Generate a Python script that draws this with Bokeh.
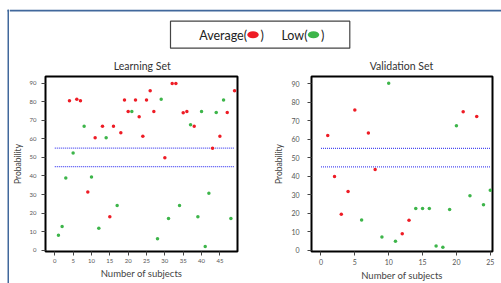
from bokeh.plotting import figure
from bokeh.layouts import row, column
from bokeh.models import Range1d, FixedTicker
from bokeh.core.properties import value
from bokeh.embed import file_html
from bokeh.resources import INLINE

# ---------------- data ----------------
learn_avg_x = [4, 6, 7, 9, 11, 13, 15, 16, 18, 19, 20, 22, 23, 24, 25, 26, 27, 30, 32, 33, 35, 36, 38, 43, 45, 47, 49]
learn_avg_y = [80.5, 81.2, 80.5, 31.4, 60.5, 66.8, 18.1, 66.8, 63.2, 80.8, 74.7, 80.8, 71.9, 61.4, 80.8, 85.8, 74.7,
               49.8, 89.8, 89.8, 74.0, 74.7, 66.8, 54.9, 61.4, 74.2, 85.8]
learn_low_x = [1, 2, 3, 5, 8, 10, 12, 14, 17, 21, 28, 29, 31, 34, 37, 39, 40, 41, 42, 44, 46, 48]
learn_low_y = [8.1, 12.9, 38.9, 52.4, 66.8, 39.5, 11.9, 60.5, 24.2, 74.7, 6.3, 81.2, 17.2, 24.2, 67.5, 18.1, 74.7,
               2.1, 30.7, 74.2, 80.8, 17.2]

valid_avg_x = [1, 2, 3, 4, 5, 7, 8, 12, 13, 21, 23]
valid_avg_y = [62.0, 39.9, 19.5, 31.7, 75.8, 63.4, 43.6, 8.9, 16.2, 74.8, 72.3]
valid_low_x = [6, 9, 10, 11, 14, 15, 16, 17, 18, 19, 20, 22, 24, 25]
valid_low_y = [16.3, 7.1, 90.3, 4.8, 22.5, 22.5, 22.5, 2.3, 1.6, 22.0, 67.3, 29.4, 24.6, 32.4]

thresholds = [45, 55]
y_ticks = [0, 10, 20, 30, 40, 50, 60, 70, 80, 90]
learn_x_ticks = [0, 5, 10, 15, 20, 25, 30, 35, 40, 45]
valid_x_ticks = [0, 5, 10, 15, 20, 25]
titles = ["Learning Set", "Validation Set"]
x_label = "Number of subjects"
y_label = "Probability"
legend_labels = ["Average(", ")", "Low(", ")"]

RED = "#ee1c25"
GREEN = "#3db54a"
BLUE = "#41689c"
FONT = "Lato"
TOP_H = 73
PANEL_H = 283 - TOP_H


def panel(ax_x, ay, lx, ly, n, xr, yr, xticks, width, mb_left, mb_right, tick_fs, lab_standoff):
    p = figure(width=width, height=PANEL_H, x_range=Range1d(*xr), y_range=Range1d(*yr),
               output_backend="svg", toolbar_location=None,
               min_border_left=mb_left, min_border_right=mb_right,
               min_border_top=3, min_border_bottom=29)
    p.grid.visible = False
    p.outline_line_color = "black"
    p.outline_line_width = 2
    p.background_fill_color = "white"
    p.border_fill_color = "white"
    for ax in (p.xaxis[0], p.yaxis[0]):
        ax.axis_line_color = None
        ax.major_tick_in = 0
        ax.major_tick_out = 4
        ax.major_tick_line_color = "#444444"
        ax.minor_tick_line_color = None
        ax.major_label_text_font = FONT
        ax.major_label_text_font_size = tick_fs
        ax.major_label_text_color = "#555555"
    p.xaxis[0].ticker = FixedTicker(ticks=xticks)
    p.yaxis[0].ticker = FixedTicker(ticks=y_ticks)
    p.xaxis[0].major_label_standoff = 3
    p.xaxis[0].axis_label = x_label
    p.xaxis[0].axis_label_text_font = FONT
    p.xaxis[0].axis_label_text_font_size = "9.5px"
    p.xaxis[0].axis_label_text_font_style = "normal"
    p.xaxis[0].axis_label_text_color = "#444444"
    p.xaxis[0].axis_label_standoff = 2
    p.yaxis[0].major_label_standoff = lab_standoff
    p.yaxis[0].axis_label = y_label
    p.yaxis[0].axis_label_text_font = FONT
    p.yaxis[0].axis_label_text_font_size = "8.5px"
    p.yaxis[0].axis_label_text_font_style = "normal"
    p.yaxis[0].axis_label_text_color = "#444444"
    p.yaxis[0].axis_label_standoff = 4

    for t in thresholds:
        p.segment(x0=[0], y0=[t], x1=[n], y1=[t], line_color="#4a4af2", line_width=1.2, line_dash="1 1")
    p.scatter(ax_x, ay, size=3.5, fill_color=RED, line_color=None, marker="circle")
    p.scatter(lx, ly, size=3.5, fill_color=GREEN, line_color=None, marker="circle")
    return p


left = panel(learn_avg_x, learn_avg_y, learn_low_x, learn_low_y, 49,
             (-2.53, 49.8), (-0.6, 93.5), learn_x_ticks, 249, 36, 21, "6px", 5)
right = panel(valid_avg_x, valid_avg_y, valid_low_x, valid_low_y, 25,
              (-1.40, 25.33), (-0.7, 93.9), valid_x_ticks, 243, 53, 9, "7px", 8)

# header: border line, legend box, panel titles
head = figure(width=492, height=TOP_H, x_range=Range1d(0, 492), y_range=Range1d(TOP_H, 0),
              output_backend="svg", toolbar_location=None, min_border=0)
head.axis.visible = False
head.grid.visible = False
head.outline_line_color = None
head.quad(left=[0], right=[492], top=[9.3], bottom=[10.9], fill_color=BLUE, line_color=None)
head.quad(left=[161], right=[340.3], top=[20.7], bottom=[47.7], fill_color="white",
          line_color="#444444", line_width=1.2)
head.text(x=[237.5], y=[34.5], text=[legend_labels[0]], text_align="right", text_baseline="middle",
          text_font=value(FONT), text_font_size="12.5px", text_color="#222222")
head.ellipse(x=[243.5], y=[34.3], width=11.5, height=7, width_units="screen", height_units="screen",
             fill_color=RED, line_color=None)
head.text(x=[251], y=[34.5], text=[legend_labels[1]], text_align="left", text_baseline="middle",
          text_font=value(FONT), text_font_size="12.5px", text_color="#222222")
head.text(x=[298], y=[34.5], text=[legend_labels[2]], text_align="right", text_baseline="middle",
          text_font=value(FONT), text_font_size="12.5px", text_color="#222222")
head.ellipse(x=[304], y=[34.3], width=11.5, height=7, width_units="screen", height_units="screen",
             fill_color=GREEN, line_color=None)
head.text(x=[311.5], y=[34.5], text=[legend_labels[3]], text_align="left", text_baseline="middle",
          text_font=value(FONT), text_font_size="12.5px", text_color="#222222")
head.text(x=[132.7, 392], y=[65, 65], text=titles, text_align="center", text_baseline="middle",
          text_font=value(FONT), text_font_size="10.5px", text_color="#333333")

# left margin with the blue border line
margin = figure(width=9, height=283, x_range=Range1d(0, 9), y_range=Range1d(283, 0),
                output_backend="svg", toolbar_location=None, min_border=0)
margin.axis.visible = False
margin.grid.visible = False
margin.outline_line_color = None
margin.quad(left=[7], right=[8.7], top=[9.3], bottom=[283], fill_color=BLUE, line_color=None)
margin.quad(left=[7], right=[9], top=[9.3], bottom=[10.9], fill_color=BLUE, line_color=None)

layout = row(margin, column(head, row(left, right)))

open("out.html", "w").write(file_html(layout, INLINE))
